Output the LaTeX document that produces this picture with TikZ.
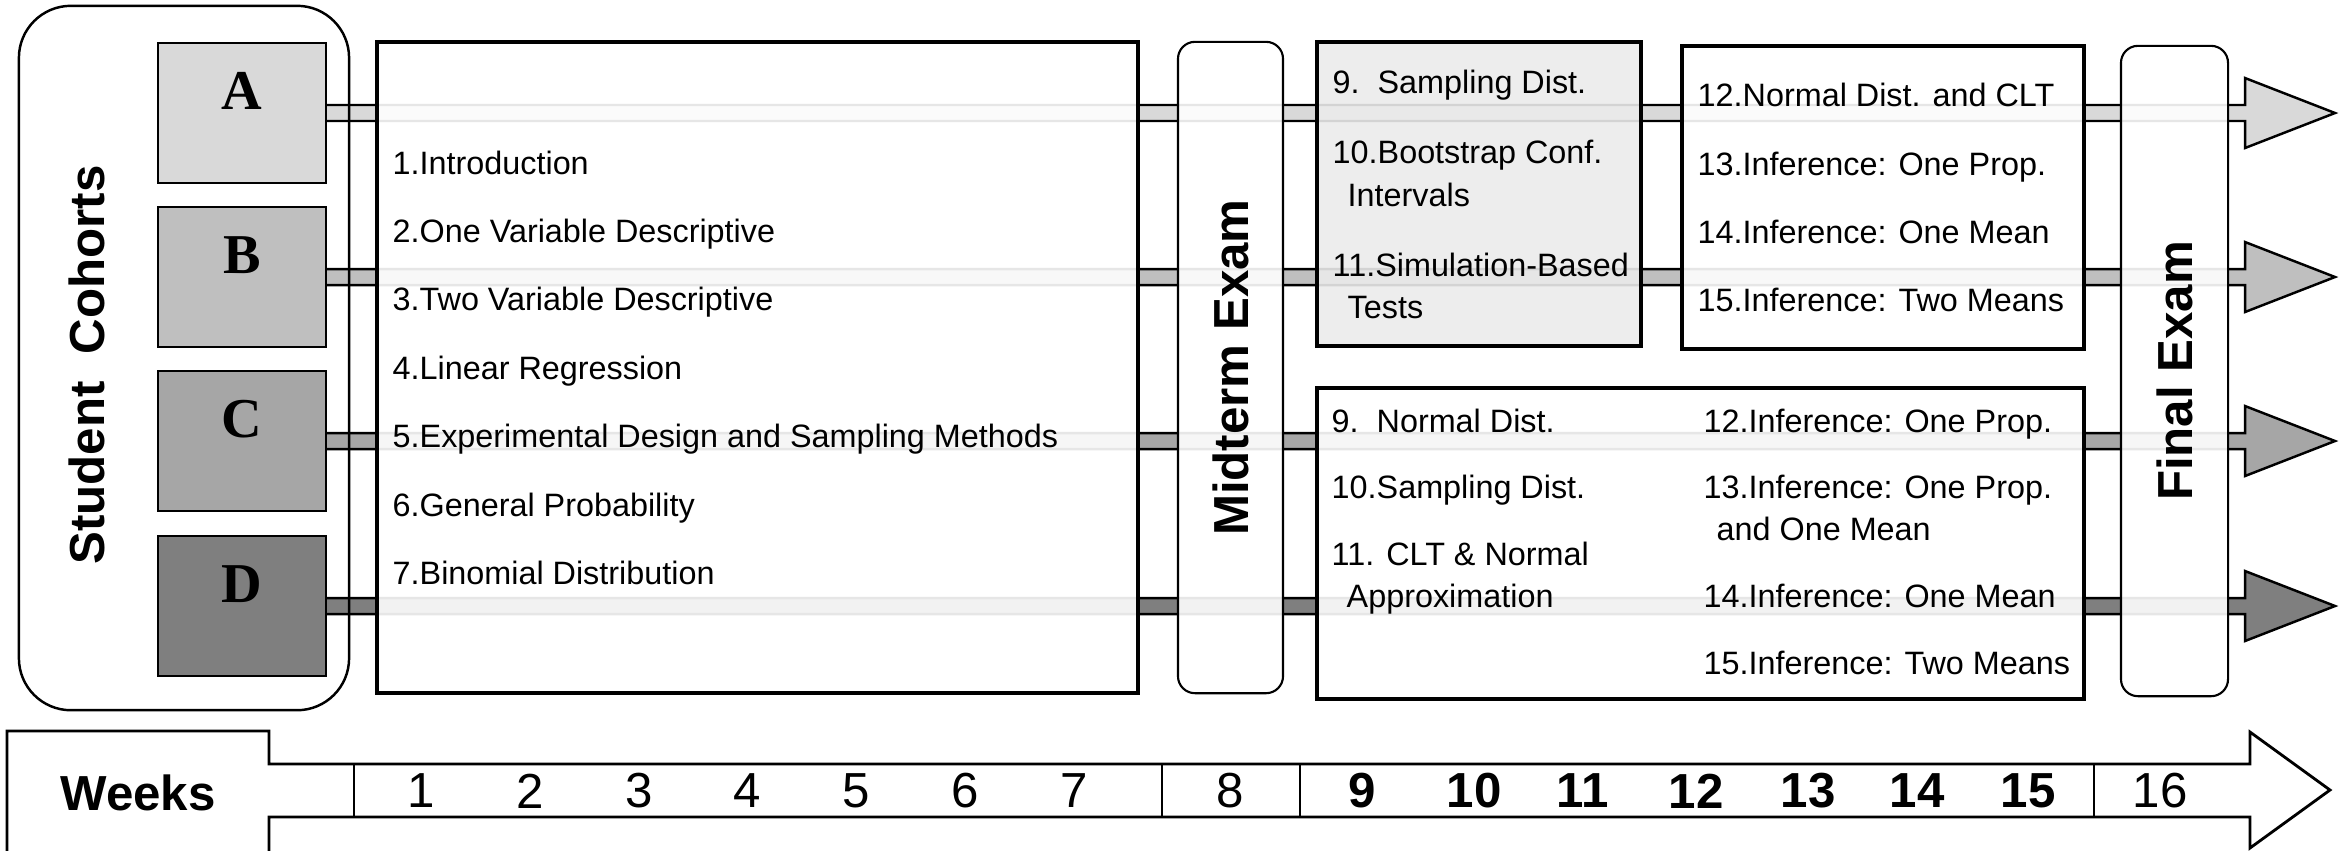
\documentclass[tikz,border=0pt]{standalone}
\usepackage{fontspec}
\setmainfont{Liberation Sans}
\newfontfamily\lettfont{Liberation Serif}
\usepackage{xcolor}
\usepackage{tikz}
\usetikzlibrary{calc, backgrounds}

\definecolor{colA}{HTML}{D9D9D9}
\definecolor{colB}{HTML}{BFBFBF}
\definecolor{colC}{HTML}{A6A6A6}
\definecolor{colD}{HTML}{7F7F7F}
\definecolor{simfill}{HTML}{EBEBEB}

\tikzset{
    cohort/.style={draw, line width=0.7pt, minimum width=1.68cm, minimum height=1.40cm, inner sep=0pt,
        font=\lettfont\bfseries\fontsize{16}{18}\selectfont, text height=0.372cm, text depth=0.44cm},
    topicbox/.style={draw, line width=1pt, fill=white, fill opacity=0.9, inner sep=0pt},
    exambox/.style={draw, line width=0.6pt, rounded corners=0.17cm, fill=white, fill opacity=0.9, text opacity=1,
        rotate=90, inner sep=0pt, font=\bfseries\fontsize{14}{16}\selectfont},
    topic/.style={anchor=base west, inner sep=0pt, font=\fontsize{9.2}{11}\selectfont},
    band/.style={draw, line width=0.7pt},
    week/.style={inner sep=0pt, font=\fontsize{14}{16}\selectfont},
    boldweek/.style={inner sep=0pt, font=\bfseries\fontsize{14}{16}\selectfont}
}

\begin{document}
\begin{tikzpicture}[x=0.01cm, y=-0.01cm]
            \useasboundingbox (0,0) rectangle (2351,850);

            \node[cohort, fill=colA] (A) at (242,113) {A};
            \node[cohort, fill=colB] (B) at (242,277) {B};
            \node[cohort, fill=colC] (C) at (242,441) {C};
            \node[cohort, fill=colD] (D) at (242,606) {D};
            \node[draw, line width=0.7pt, rounded corners=0.52cm, minimum width=3.30cm, minimum height=7.04cm] (cohorts) at (184,358) {};
            \node[rotate=90, inner sep=0pt, font=\bfseries\fontsize{14}{16}\selectfont] (cohortlbl) at (87,365) {Student\ \ Cohorts};

            \begin{pgfonlayer}{background}
                \foreach \c in {A,B,C,D} {
                    \coordinate (tip\c) at ($(\c.center)+(2093,0)$);
                    \draw[band, fill=col\c] ($(\c.center)+(0,-8)$) -- ($(tip\c)+(-90,-8)$) -- ($(tip\c)+(-90,-35)$) -- (tip\c)
                        -- ($(tip\c)+(-90,35)$) -- ($(tip\c)+(-90,8)$) -- ($(\c.center)+(0,8)$) -- cycle;
                }
            \end{pgfonlayer}

            \node[topicbox, minimum width=7.61cm, minimum height=6.51cm] (basics) at (757.5,367.5) {};
            \node[exambox, minimum width=6.51cm, minimum height=1.05cm] (mid) at (1230.5,367.5) {Midterm Exam};
            \node[topicbox, fill=simfill, minimum width=3.24cm, minimum height=3.04cm] (simbox) at (1479,194) {};
            \node[topicbox, minimum width=4.02cm, minimum height=3.03cm] (infbox) at (1883,197.5) {};
            \node[topicbox, minimum width=7.67cm, minimum height=3.11cm] (normbox) at (1700.5,543.5) {};
            \node[exambox, minimum width=6.50cm, minimum height=1.07cm] (final) at (2174.5,371) {Final Exam};

            \node[topic] (t1) at (392,174) {1.Introduction};
            \node[topic] (t2) at (392,242) {2.One Variable Descriptive};
            \node[topic] (t3) at (392,310) {3.Two Variable Descriptive};
            \node[topic] (t4) at (392,379) {4.Linear Regression};
            \node[topic] (t5) at (392,447) {5.Experimental Design and Sampling Methods};
            \node[topic] (t6) at (392,516) {6.General Probability};
            \node[topic] (t7) at (392,584) {7.Binomial Distribution};

            \node[topic] (s9) at (1332,93) {9.\ \ Sampling Dist.};
            \node[topic] (s10) at (1332,163) {10.Bootstrap Conf.};
            \node[topic] (s10b) at (1347,206) {Intervals};
            \node[topic] (s11) at (1332,276) {11.Simulation-Based};
            \node[topic] (s11b) at (1347,318) {Tests};

            \node[topic] (s12) at (1697,106) {12.Normal Dist. and CLT};
            \node[topic] (s13) at (1697,175) {13.Inference: One Prop.};
            \node[topic] (s14) at (1697,243) {14.Inference: One Mean};
            \node[topic] (s15) at (1697,311) {15.Inference: Two Means};

            \node[topic] (n9) at (1331,432) {9.\ \ Normal Dist.};
            \node[topic] (n10) at (1331,498) {10.Sampling Dist.};
            \node[topic] (n11) at (1331,565) {11. CLT \& Normal};
            \node[topic] (n11b) at (1346,607) {Approximation};
            \node[topic] (n12) at (1703,432) {12.Inference: One Prop.};
            \node[topic] (n13) at (1703,498) {13.Inference: One Prop.};
            \node[topic] (n13b) at (1716,540) {and One Mean};
            \node[topic] (n14) at (1703,607) {14.Inference: One Mean};
            \node[topic] (n15) at (1703,674) {15.Inference: Two Means};

            \draw[line width=0.8pt] (7,731) -- (269,731) -- (269,764) -- (2250,764) -- (2250,732) -- (2330,790)
                -- (2250,848) -- (2250,817) -- (269,817) -- (269,860) -- (7,860) -- cycle;
            \node[inner sep=0pt, font=\bfseries\fontsize{14}{16}\selectfont] (weeks) at (138,793) {Weeks};
            \foreach \x in {354,1162,1300,2094}
                \draw[line width=0.6pt] (\x,764) -- (\x,817);
            \foreach \n/\x in {1/421,2/530,3/639,4/747,5/856,6/965,7/1074,8/1230,16/2160}
                \node[week] (w\n) at (\x,791) {\n};
            \foreach \n/\x in {9/1362,10/1474,11/1583,12/1696,13/1808,14/1917,15/2028}
                \node[boldweek] (w\n) at (\x,791) {\n};
        \end{tikzpicture}
\end{document}
